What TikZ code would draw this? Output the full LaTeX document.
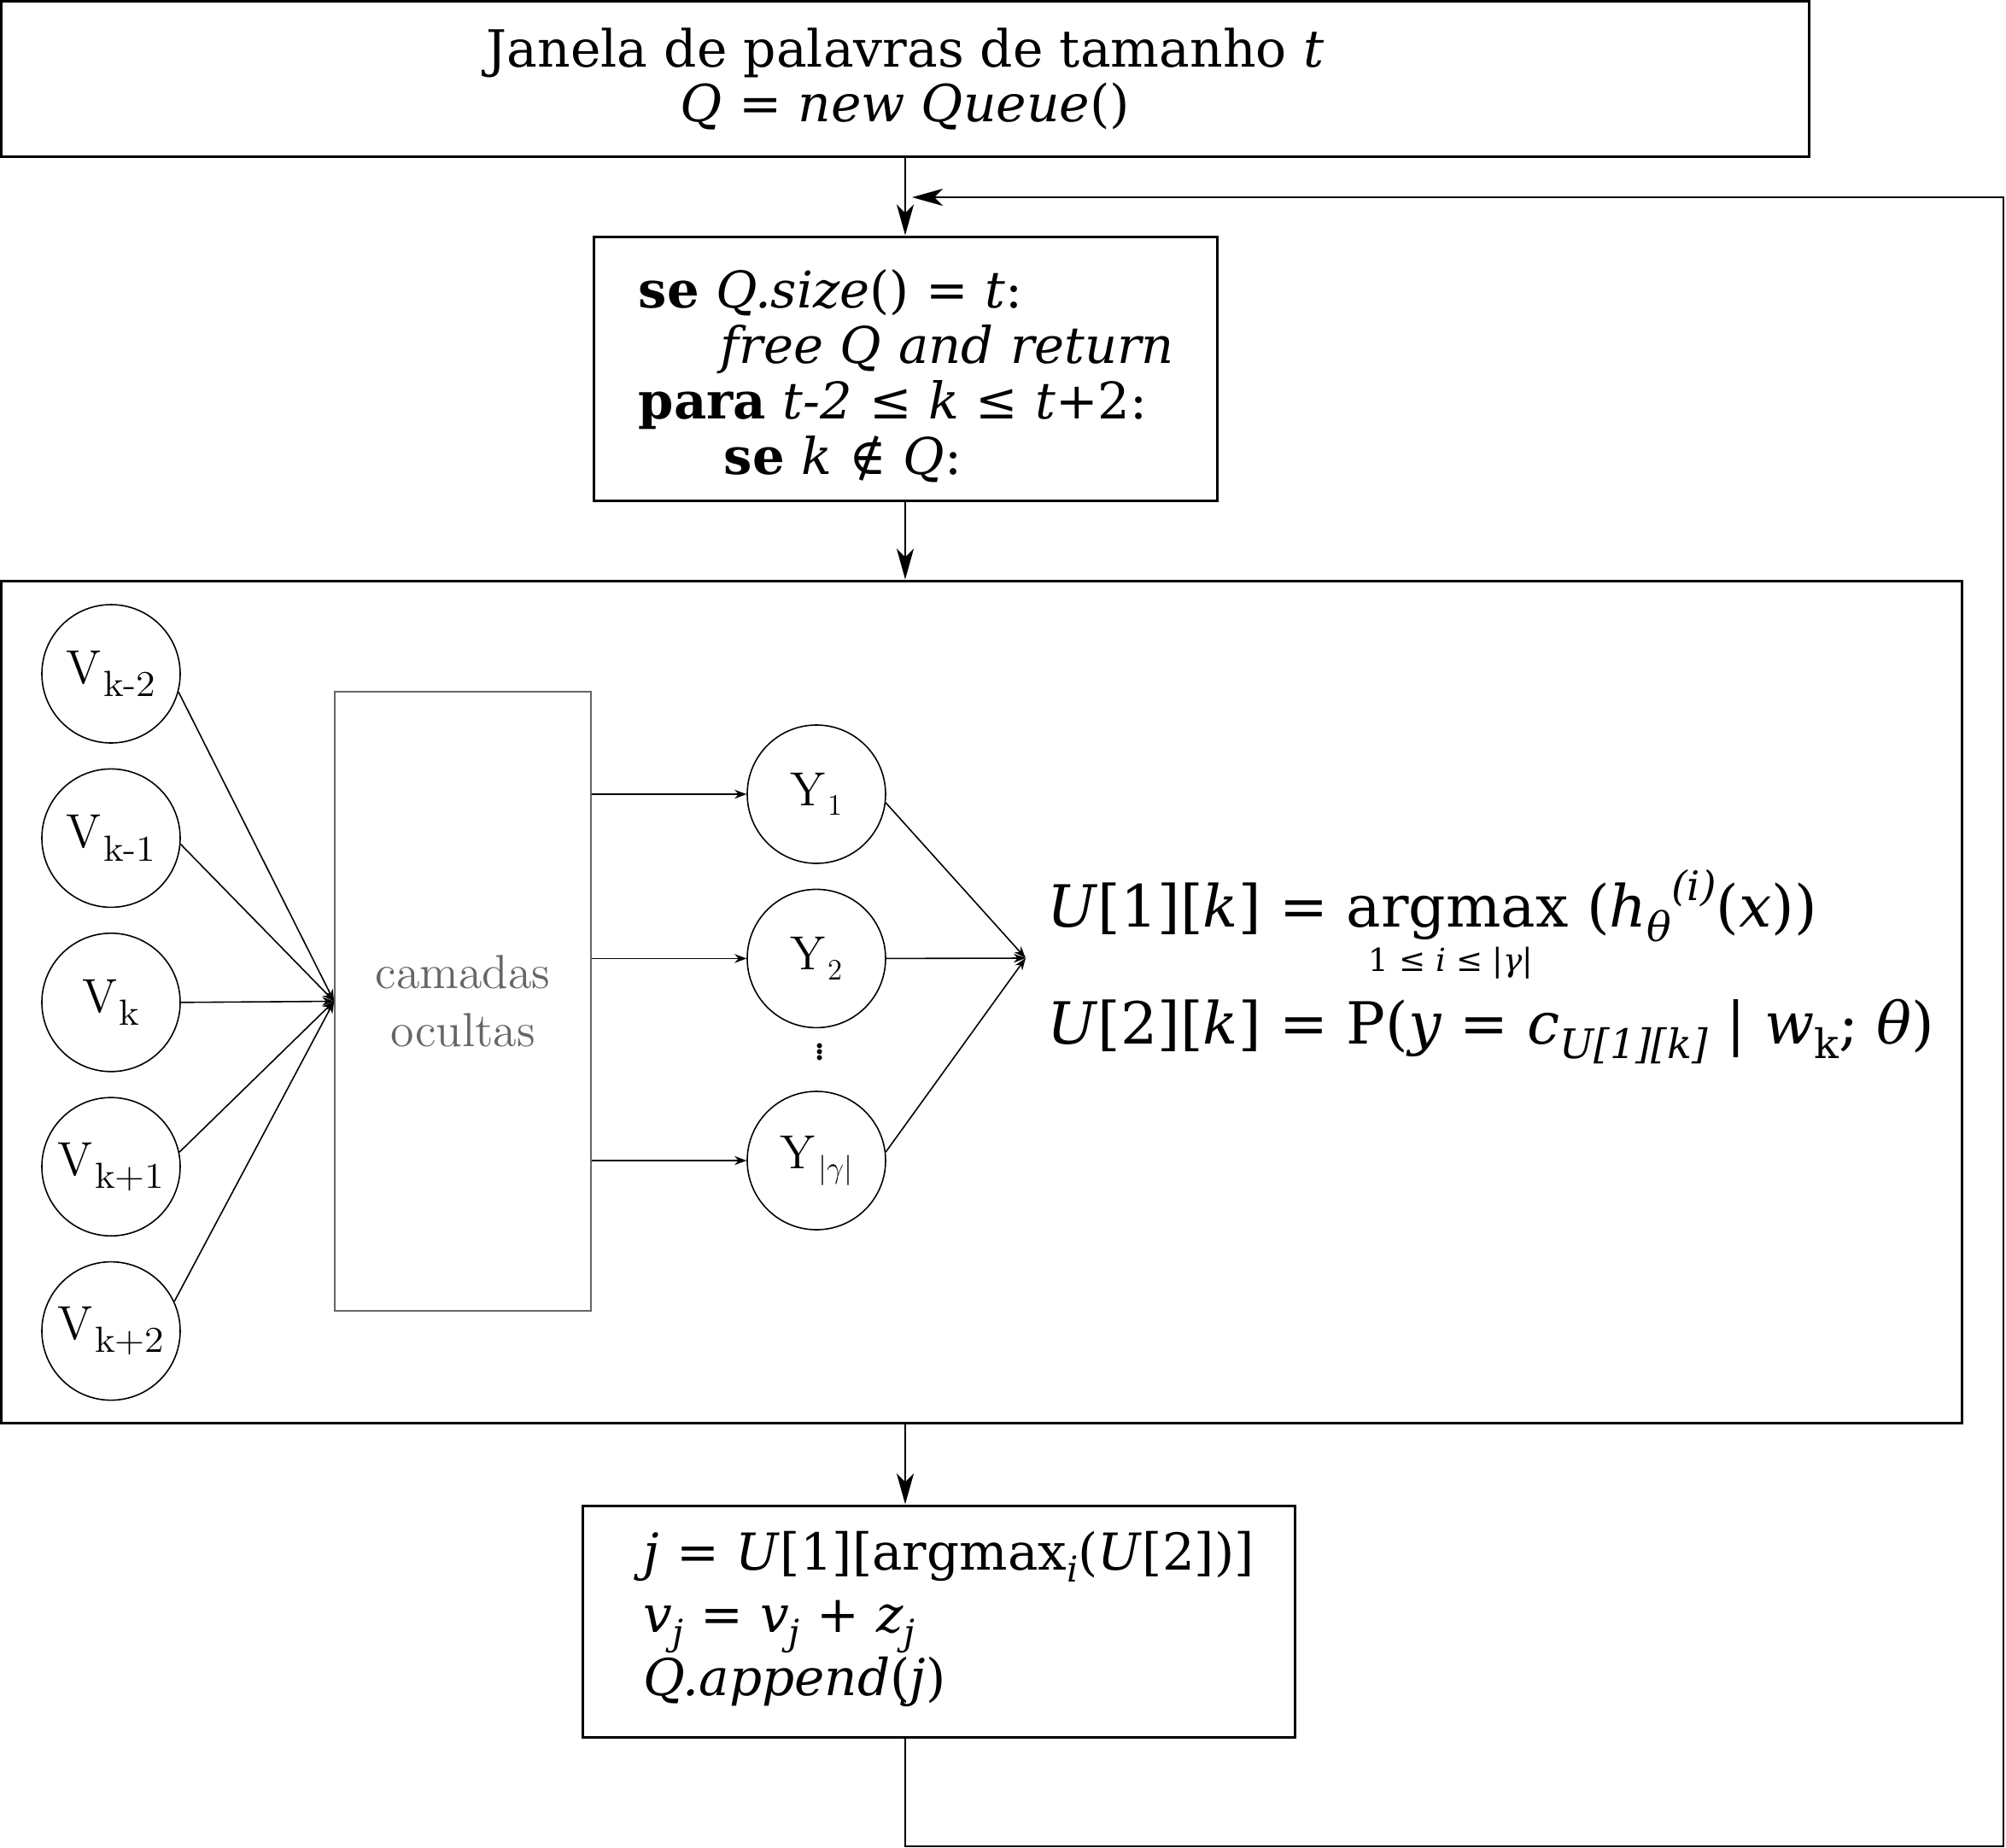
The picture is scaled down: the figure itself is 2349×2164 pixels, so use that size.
\documentclass[tikz,border=0pt]{standalone}
\usepackage{fontspec}
\usetikzlibrary{arrows.meta,positioning}
\newfontfamily\dvserif{DejaVu Serif}
\newcommand{\vsub}[1]{\kern0.6pt\raisebox{-0.27em}{\scalebox{0.82}[0.76]{#1}}}
\newcommand{\ysub}[1]{\kern0.8pt\raisebox{-0.2em}{\scalebox{0.62}{#1}}}
\newcommand{\lowtext}[1]{\raisebox{-0.25em}{\scalebox{0.7}{#1}}}
\newcommand{\hightext}[1]{\raisebox{0.45em}{\scalebox{0.7}{#1}}}

\begin{document}
\begin{tikzpicture}[x=0.25pt, y=-0.25pt,
    block/.style   = {draw, rectangle, line width=0.75pt, inner sep=0pt},
    code/.style    = {anchor=base west, inner sep=0pt, text width=200pt, align=left},
    neuron/.style  = {draw, circle, line width=0.4pt, minimum size=40.5pt, inner sep=0pt, font=\fontsize{14}{16}\selectfont},
    hidden/.style  = {draw=black!60, rectangle, line width=0.4pt, minimum width=75pt, minimum height=181.25pt, text=black!60, align=center, font=\fontsize{14}{17}\selectfont},
    formula/.style = {anchor=base west, inner sep=0pt, font=\dvserif\fontsize{17}{20}\selectfont},
    flow/.style    = {-{Stealth[length=9pt, width=5pt, inset=2.5pt]}, line width=0.6pt},
    link/.style    = {-{Stealth[length=3.5pt, width=2.6pt]}, line width=0.4pt},
    node distance  = 48.1pt]

    \useasboundingbox (0,0) rectangle (2349,2164);

    % algorithm blocks
    \node[block, minimum width=529.25pt, minimum height=45.6pt, align=center,
          font=\dvserif\fontsize{15}{16}\selectfont] (window) at (1060,92.75)
          {Janela de palavras de tamanho \textit{t}\\ \textit{Q} = \textit{new Queue}()};

    \node[block, minimum width=182.5pt, minimum height=77.25pt] (check) at (1060,431.5) {};
    \node[code, font=\dvserif\fontsize{14.8}{16.3}\selectfont] (checktext) at (747,360)
          {\textbf{se} \textit{Q.size}() = \textit{t}:\\
           \hspace*{24pt}\textit{free Q and return}\\
           \textbf{para} \textit{t-2} ≤ \textit{k} ≤ \textit{t}+2:\\
           \hspace*{25pt}\textbf{se} \textit{k} ∉ \textit{Q}:};

    \node[block, minimum width=574.1pt, minimum height=246.5pt] (net) at (1149.75,1173) {};

    \node[block, minimum width=208.5pt, minimum height=67.75pt] (update) at (1099,1898.5) {};
    \node[code, font=\dvserif\fontsize{14.9}{18.4}\selectfont] (updatetext) at (753,1838)
          {\textit{j} = \textit{U}[1][argmax\lowtext{\textit{i}}(\textit{U}[2])]\\
           \textit{v}\lowtext{\textit{j}} = \textit{v}\lowtext{\textit{j}} + \textit{z}\lowtext{\textit{j}}\\
           \textit{Q.append}(\textit{j})};

    % network
    \node[neuron] (v1) at (130,789) {V\vsub{k-2}};
    \node[neuron, below of=v1] (v2) {V\vsub{k-1}};
    \node[neuron, below of=v2] (v3) {V\vsub{k}};
    \node[neuron, below of=v3] (v4) {V\vsub{k+1}};
    \node[neuron, below of=v4] (v5) {V\vsub{k+2}};

    \node[hidden] (layers) at (542,1172.5) {camadas\\ocultas};

    \node[neuron] (y1) at (956,930) {Y\ysub{1}};
    \node[neuron, below of=y1] (y2) {Y\ysub{2}};
    \node[neuron] (yg) at (956,1359) {Y\ysub{$|\gamma|$}};
    \node[inner sep=0pt, align=center, font=\dvserif\bfseries\fontsize{8}{1.8pt}\selectfont] (dots) at (960,1232) {.\\.\\.};

    \coordinate (join) at (1201,1122);

    \node[formula] (argmaxeq) at (1226,1085)
          {\textit{U}[1][\textit{k}] = argmax (\textit{h}\lowtext{\textit{θ}}\hightext{\textit{(i)}}(\textit{x}))};
    \node[formula, font=\dvserif\fontsize{9.3}{11}\selectfont] (range) at (1602,1137)
          {1 ≤ \textit{i} ≤ |\textit{γ}|};
    \node[formula] (probeq) at (1226,1222)
          {\textit{U}[2][\textit{k}] = P(\textit{y} = \textit{c}\lowtext{\textit{U[1][k]}} | \textit{w}\lowtext{k}; \textit{θ})};

    \foreach \n/\a in {1/-15, 2/-5, 3/0, 4/12, 5/25}
    \draw[link] (v\n.\a) -- (layers.west);

    \foreach \n/\a in {y1/-7, y2/0, yg/7} {
        \draw[link] (layers.east |- \n) -- (\n.west);
        \draw[link] (\n.\a) -- (join);
    }

    % flow and loop back
    \coordinate (loopB) at (2346,2162);
    \coordinate (loopT) at (2346,231);
    \coordinate (loopEnd) at (1068,231);

    \draw[flow] (window) -- (check);
    \draw[flow] (check) -- (check |- net.north);
    \draw[flow] (check |- net.south) -- (check |- update.north);
    \draw[flow] (check |- update.south) |- (loopB) -- (loopT) -- (loopEnd);
\end{tikzpicture}
\end{document}
